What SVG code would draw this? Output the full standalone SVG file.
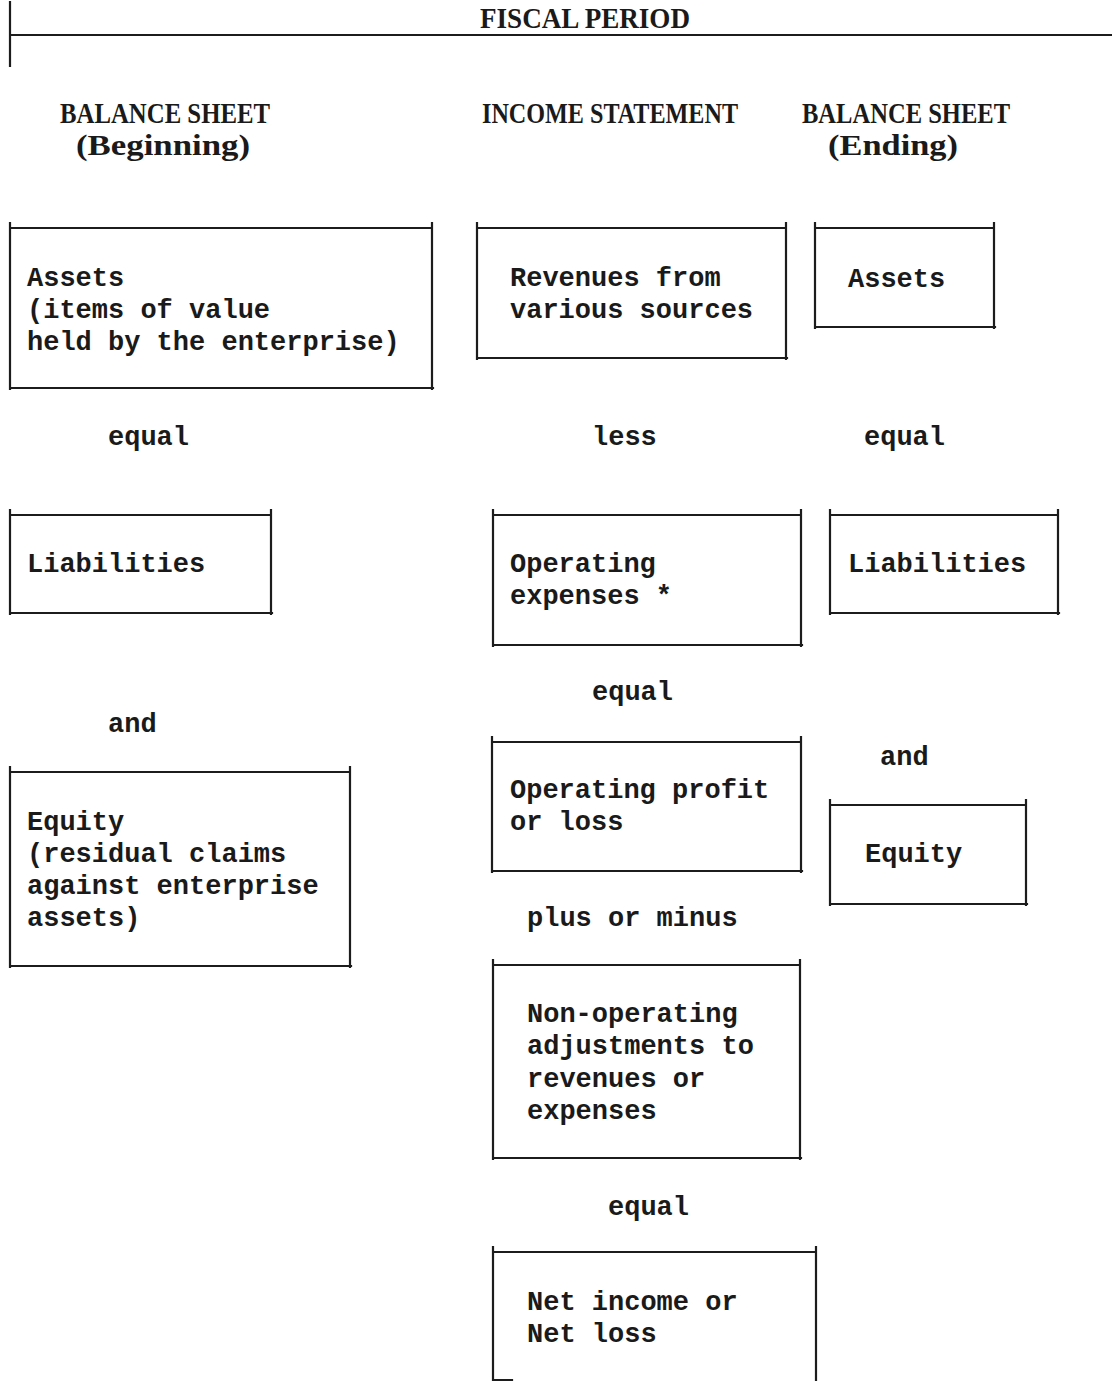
<svg xmlns="http://www.w3.org/2000/svg" width="1112" height="1381" viewBox="0 0 1112 1381">
<style>
.bg{fill:#ffffff}
.ln{fill:none;stroke:#1c1c1c;stroke-width:2.2;stroke-linecap:square}
.hd{font-family:"Liberation Serif","Times New Roman",serif;font-size:29px;font-weight:bold;fill:#1a1a1a}
.tx{font-family:"Liberation Mono","Courier New",monospace;font-size:27px;font-weight:bold;fill:#1a1a1a}
</style>
<rect class="bg" x="0" y="0" width="1112" height="1381"/>
<g id="fiscal-period">
<path class="ln" d="M10 2 V66 M10 35 H1112"/>
<text class="hd" x="480" y="28" textLength="210" lengthAdjust="spacingAndGlyphs">FISCAL PERIOD</text>
</g>
<g id="headings">
<text class="hd" x="60" y="123" textLength="210" lengthAdjust="spacingAndGlyphs">BALANCE SHEET</text>
<text class="hd" x="76" y="155" textLength="174" lengthAdjust="spacingAndGlyphs">(Beginning)</text>
<text class="hd" x="482" y="123" textLength="256" lengthAdjust="spacingAndGlyphs">INCOME STATEMENT</text>
<text class="hd" x="802" y="123" textLength="208" lengthAdjust="spacingAndGlyphs">BALANCE SHEET</text>
<text class="hd" x="828" y="155" textLength="130" lengthAdjust="spacingAndGlyphs">(Ending)</text>
</g>
<g id="connectors">
<text class="tx" x="108" y="445">equal</text>
<text class="tx" x="592" y="445">less</text>
<text class="tx" x="864" y="445">equal</text>
<text class="tx" x="592" y="700">equal</text>
<text class="tx" x="108" y="732">and</text>
<text class="tx" x="880" y="765">and</text>
<text class="tx" x="527" y="926">plus or minus</text>
<text class="tx" x="608" y="1215">equal</text>
</g>
<g id="assets-begin">
<path class="ln" d="M10 223 V389 M432 223 V389 M10 228 H432 M10 388 H433"/>
<text class="tx" x="27" y="286">Assets</text>
<text class="tx" x="27" y="318">(items of value</text>
<text class="tx" x="27" y="350">held by the enterprise)</text>
</g>
<g id="revenues">
<path class="ln" d="M477 223 V359 M786 223 V359 M477 228 H786 M477 358 H787"/>
<text class="tx" x="510" y="286">Revenues from</text>
<text class="tx" x="510" y="318">various sources</text>
</g>
<g id="assets-end">
<path class="ln" d="M815 223 V328 M994 223 V328 M815 228 H994 M815 327 H995"/>
<text class="tx" x="848" y="287">Assets</text>
</g>
<g id="liabilities-begin">
<path class="ln" d="M10 510 V614 M271 510 V614 M10 515 H271 M10 613 H272"/>
<text class="tx" x="27" y="572">Liabilities</text>
</g>
<g id="operating-expenses">
<path class="ln" d="M493 510 V646 M801 510 V646 M493 515 H801 M493 645 H802"/>
<text class="tx" x="510" y="572">Operating</text>
<text class="tx" x="510" y="604">expenses *</text>
</g>
<g id="liabilities-end">
<path class="ln" d="M830 510 V614 M1058 510 V614 M830 515 H1058 M830 613 H1059"/>
<text class="tx" x="848" y="572">Liabilities</text>
</g>
<g id="equity-begin">
<path class="ln" d="M10 767 V967 M350 767 V967 M10 772 H350 M10 966 H351"/>
<text class="tx" x="27" y="830">Equity</text>
<text class="tx" x="27" y="862">(residual claims</text>
<text class="tx" x="27" y="894">against enterprise</text>
<text class="tx" x="27" y="926">assets)</text>
</g>
<g id="operating-profit">
<path class="ln" d="M492 737 V872 M801 737 V872 M492 742 H801 M492 871 H802"/>
<text class="tx" x="510" y="798">Operating profit</text>
<text class="tx" x="510" y="830">or loss</text>
</g>
<g id="equity-end">
<path class="ln" d="M830 800 V905 M1026 800 V905 M830 805 H1026 M830 904 H1027"/>
<text class="tx" x="865" y="862">Equity</text>
</g>
<g id="non-operating">
<path class="ln" d="M493 960 V1159 M800 960 V1159 M493 965 H800 M493 1158 H801"/>
<text class="tx" x="527" y="1022">Non-operating</text>
<text class="tx" x="527" y="1054">adjustments to</text>
<text class="tx" x="527" y="1087">revenues or</text>
<text class="tx" x="527" y="1119">expenses</text>
</g>
<g id="net-income">
<path class="ln" d="M493 1247 V1381 M816 1247 V1381 M493 1252 H816 M493 1380 H512"/>
<text class="tx" x="527" y="1310">Net income or</text>
<text class="tx" x="527" y="1342">Net loss</text>
</g>
</svg>
